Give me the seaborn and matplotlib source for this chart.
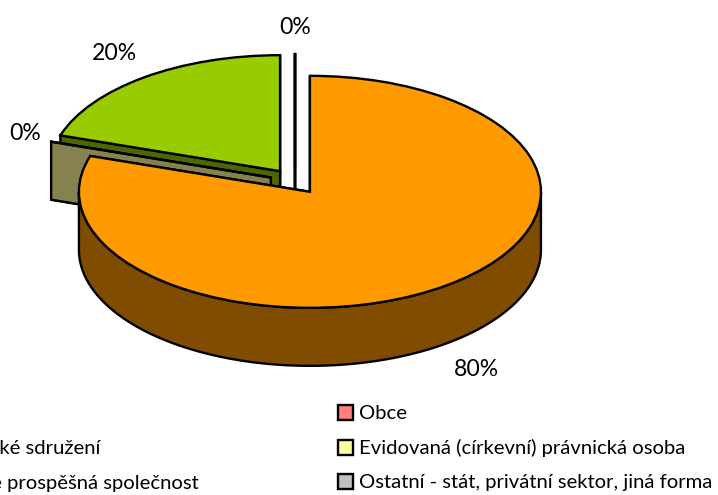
import numpy as np
import matplotlib
matplotlib.use("Agg")
import matplotlib.pyplot as plt
import seaborn as sns
from matplotlib.patches import Patch

# slices clockwise from the top
values = [80, 0, 20, 0]
top_colors = ["#FF9900", "#85824F", "#99CC00", "#FFFFFF"]
side_colors = ["#7F4C00", "#85824F", "#4C6600", "#FFFFFF"]

legend_left = ["Občanské sdružení", "Obecně prospěšná společnost"]
legend_left_colors = ["#FF9900", "#99CC00"]
legend_right = ["Obce", "Evidovaná (církevní) právnická osoba", "Ostatní - stát, privátní sektor, jiná forma"]
legend_right_colors = ["#FF8080", "#FFFF99", "#C0C0C0"]

W, H = 718, 495
CX, CY = 295, 181.5   # pie centre in pixels
RX, RY = 231, 116     # squashed radii in pixels
DEPTH = 0.5           # extrusion, in radii
FONT = 14.6
LW = 1.7

sns.set_theme(style="white")
plt.rcParams["font.family"] = ["Lato", "DejaVu Sans"]


def side_faces(ax, wedge, color, z):
    """Draw the extruded faces below one pie wedge."""
    cx, cy = wedge.center
    r = wedge.r
    for t in (wedge.theta1, wedge.theta2):
        a = np.radians(t)
        x = [cx, cx + r * np.cos(a), cx + r * np.cos(a), cx]
        y = [cy, cy + r * np.sin(a), cy + r * np.sin(a) - DEPTH, cy - DEPTH]
        ax.fill(x, y, facecolor=color, edgecolor="black", lw=LW, zorder=z)
    # rim, only the part that faces the viewer
    t = np.linspace(wedge.theta1, wedge.theta2, 400)
    t = t[np.sin(np.radians(t)) <= 0]
    if len(t) > 1:
        a = np.radians(t)
        x = cx + r * np.cos(a)
        y = cy + r * np.sin(a)
        ax.fill(np.r_[x, x[::-1]], np.r_[y, y[::-1] - DEPTH],
                facecolor=color, edgecolor="black", lw=LW, zorder=z)


fig = plt.figure(figsize=(W / 100, H / 100), dpi=100)
ax = fig.add_axes([0, 0, 1, 1])

wedges, _ = ax.pie(values, colors=sns.color_palette(top_colors), startangle=90, counterclock=False,
                   explode=[0.11] * len(values), radius=1,
                   wedgeprops={"edgecolor": "black", "linewidth": LW})
ax.set_aspect("auto")
ax.set_xlim(-CX / RX, (W - CX) / RX)
ax.set_ylim(-(H - CY) / RY, CY / RY)
ax.axis("off")

# paint from the back slice to the front one
for i in range(len(values) - 1, -1, -1):
    z = 2 * (len(values) - i)
    side_faces(ax, wedges[i], side_colors[i], z)
    wedges[i].set_zorder(z + 1)

labels = [f"{v}%" for v in values]
label_pos = [(476, 370), (25, 133), (114, 53), (295, 27)]
for text, (x, y) in zip(labels, label_pos):
    fig.text(x / W, 1 - y / H, text, fontsize=16.6, color="black", ha="center", va="center")


def add_legend(names, colors, x, y):
    handles = [Patch(facecolor=c, edgecolor="black", linewidth=LW) for c in colors]
    leg = fig.legend(handles, names, loc="upper left", bbox_to_anchor=(x / W, 1 - y / H),
                     frameon=False, fontsize=FONT, labelspacing=0.82, handlelength=0.75,
                     handleheight=0.75, handletextpad=0.3, borderpad=0, borderaxespad=0)
    for t in leg.get_texts():
        t.set_color("black")


add_legend(legend_right, legend_right_colors, 338, 405)
add_legend(legend_left, legend_left_colors, -89, 440)

fig.savefig("out.png", dpi=100)
